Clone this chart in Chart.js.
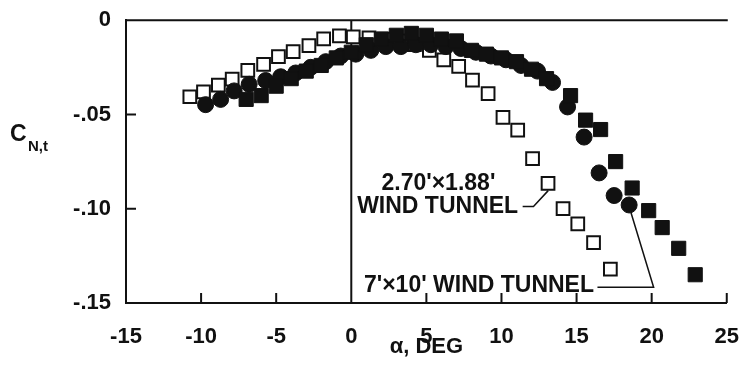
<!DOCTYPE html>
<html>
<head>
<meta charset="utf-8">
<script src="https://cdn.jsdelivr.net/npm/chart.js@4"></script>
<style>
  body { margin: 0; background: #fff; }
  #wrap { width: 752px; height: 370px; position: relative; }
</style>
</head>
<body>
<div id="wrap"><canvas id="cnChart"></canvas></div>
<script>
// 2.70' x 1.88' wind tunnel (open squares)
const alphaSmall = [-10.75, -9.84, -8.85, -7.93, -6.89, -5.84, -4.85, -3.87, -2.82, -1.84, -0.79, 0.13, 1.18,
  2.2, 3.2, 4.2, 5.2, 6.16, 7.15, 8.07, 9.11, 10.1, 11.08, 12.07, 13.1, 14.1, 15.08, 16.13, 17.25];
const cnSmall = [-0.0406, -0.038, -0.0344, -0.0313, -0.0266, -0.0234, -0.0193, -0.0167, -0.0135, -0.0099, -0.0083, -0.0089, -0.0094,
  -0.010, -0.011, -0.013, -0.016, -0.021, -0.0245, -0.0318, -0.039, -0.0516, -0.0583, -0.0734, -0.0865, -0.100, -0.108, -0.118, -0.132];

// 7' x 10' wind tunnel, filled circles
const alphaLargeA = [-9.7, -8.7, -7.8, -6.8, -5.7, -4.7, -3.7, -2.7, -1.7, -0.7, 0.3, 1.3, 2.3, 3.3, 4.3, 5.3, 6.3, 7.3,
  8.3, 9.3, 10.3, 11.3, 12.4, 13.4, 14.4, 15.5, 16.5, 17.5, 18.5];
const cnLargeA = [-0.0448, -0.042, -0.0375, -0.034, -0.032, -0.030, -0.028, -0.025, -0.022, -0.019, -0.018, -0.016, -0.014, -0.014,
  -0.013, -0.013, -0.014, -0.015, -0.017, -0.019, -0.021, -0.024, -0.027, -0.033, -0.046, -0.062, -0.081, -0.093, -0.098];

// 7' x 10' wind tunnel, filled squares
const alphaLargeB = [-7.0, -6.0, -5.0, -4.0, -3.0, -2.0, -1.0, 0.0, 1.0, 2.0, 3.0, 4.0, 5.0, 6.0, 7.0, 8.0, 9.0, 10.0,
  11.0, 12.0, 13.0, 14.6, 15.6, 16.6, 17.6, 18.7, 19.8, 20.7, 21.8, 22.9];
const cnLargeB = [-0.042, -0.040, -0.035, -0.031, -0.027, -0.024, -0.020, -0.017, -0.013, -0.010, -0.008, -0.007, -0.008, -0.010,
  -0.011, -0.016, -0.018, -0.020, -0.022, -0.026, -0.031, -0.040, -0.053, -0.058, -0.075, -0.089, -0.101, -0.110, -0.121, -0.135];

const xTickValues = [-15, -10, -5, 0, 5, 10, 15, 20, 25];
const yTickValues = [0, -0.05, -0.10, -0.15];
const yTickLabels = ['0', '-.05', '-.10', '-.15'];

const ink = '#111';
const fontFam = '"Liberation Sans", Arial, sans-serif';

function toPoints(xs, ys) {
  return xs.map((x, i) => ({ x: x, y: ys[i] }));
}

// frame, inside ticks, labels and leader lines
const decorPlugin = {
  id: 'decor',
  beforeDatasetsDraw(chart) {
    const ctx = chart.ctx;
    const xs = chart.scales.x, ys = chart.scales.y;
    const a = chart.chartArea;
    ctx.save();
    ctx.strokeStyle = ink;
    ctx.lineWidth = 2;
    ctx.beginPath();
    ctx.moveTo(a.left, a.top);
    ctx.lineTo(a.right + 1, a.top);
    const x0 = xs.getPixelForValue(0);
    ctx.moveTo(x0, a.top);
    ctx.lineTo(x0, a.bottom);
    xTickValues.slice(1).forEach(v => {
      const px = xs.getPixelForValue(v);
      ctx.moveTo(px, a.bottom);
      ctx.lineTo(px, a.bottom - 10);
    });
    yTickValues.slice(1, 3).forEach(v => {
      const py = ys.getPixelForValue(v);
      ctx.moveTo(a.left, py);
      ctx.lineTo(a.left + 10, py);
    });
    ctx.stroke();
    ctx.restore();
  },
  afterDatasetsDraw(chart) {
    const ctx = chart.ctx;
    const xs = chart.scales.x, ys = chart.scales.y;
    const P = (x, y) => [xs.getPixelForValue(x), ys.getPixelForValue(y)];
    ctx.save();
    ctx.fillStyle = ink;
    ctx.strokeStyle = ink;
    ctx.lineWidth = 1.5;

    // leader lines
    let p;
    ctx.beginPath();
    p = P(11.41, -0.0988); ctx.moveTo(p[0], p[1]);
    p = P(12.13, -0.0988); ctx.lineTo(p[0], p[1]);
    p = P(13.11, -0.0904); ctx.lineTo(p[0], p[1]);
    p = P(16.39, -0.1417); ctx.moveTo(p[0], p[1]);
    p = P(20.13, -0.1417); ctx.lineTo(p[0], p[1]);
    p = P(18.62, -0.102); ctx.lineTo(p[0], p[1]);
    ctx.stroke();

    // tunnel labels
    ctx.font = 'bold 23px ' + fontFam;
    ctx.textAlign = 'center';
    ctx.textBaseline = 'middle';
    p = P(5.8, -0.0868); ctx.fillText("2.70'\u00d71.88'", p[0], p[1]);
    p = P(5.75, -0.0988); ctx.fillText('WIND TUNNEL', p[0], p[1]);
    p = P(8.5, -0.1406); ctx.fillText("7'\u00d710' WIND TUNNEL", p[0], p[1]);

    // y title with subscript
    ctx.textAlign = 'left';
    ctx.textBaseline = 'alphabetic';
    ctx.font = 'bold 23px ' + fontFam;
    ctx.fillText('C', 10, 141);
    ctx.font = 'bold 15px ' + fontFam;
    ctx.fillText('N,t', 28, 151);
    ctx.restore();
  }
};

new Chart(document.getElementById('cnChart'), {
  type: 'scatter',
  data: {
    datasets: [
      {
        label: "7'x10' wind tunnel (squares)",
        data: toPoints(alphaLargeB, cnLargeB),
        pointStyle: 'rect',
        pointRadius: 10,
        backgroundColor: ink,
        borderColor: ink,
        borderWidth: 1,
        order: 1
      },
      {
        label: "7'x10' wind tunnel (circles)",
        data: toPoints(alphaLargeA, cnLargeA),
        pointStyle: 'circle',
        pointRadius: 8,
        backgroundColor: ink,
        borderColor: ink,
        borderWidth: 1,
        order: 2
      },
      {
        label: "2.70'x1.88' wind tunnel",
        data: toPoints(alphaSmall, cnSmall),
        pointStyle: 'rect',
        pointRadius: 9,
        backgroundColor: '#fff',
        borderColor: ink,
        borderWidth: 2,
        order: 3
      }
    ]
  },
  options: {
    responsive: true,
    maintainAspectRatio: false,
    animation: false,
    layout: { padding: { top: 16, right: 16, left: 0, bottom: 0 } },
    plugins: {
      legend: { display: false },
      tooltip: { enabled: false }
    },
    scales: {
      x: {
        type: 'linear',
        min: -15,
        max: 25,
        afterBuildTicks: s => { s.ticks = xTickValues.map(v => ({ value: v })); },
        ticks: {
          color: ink,
          padding: 13,
          maxRotation: 0,
          font: { family: fontFam, size: 22, weight: 'bold' },
          callback: v => String(v)
        },
        grid: { display: false },
        border: { display: true, color: ink, width: 2 },
        title: {
          display: true,
          text: '\u03b1, DEG',
          color: ink,
          font: { family: fontFam, size: 22, weight: 'bold' },
          padding: { top: 0, bottom: 10 }
        },
        afterFit: s => { s.height = 67; }
      },
      y: {
        type: 'linear',
        min: -0.15,
        max: 0,
        afterBuildTicks: s => { s.ticks = yTickValues.map(v => ({ value: v })); },
        ticks: {
          color: ink,
          padding: 7,
          font: { family: fontFam, size: 22, weight: 'bold' },
          callback: v => {
            const i = yTickValues.findIndex(t => Math.abs(t - v) < 1e-6);
            return i >= 0 ? yTickLabels[i] : '';
          }
        },
        grid: { display: false },
        border: { display: true, color: ink, width: 2 },
        afterFit: s => { s.width = 126; }
      }
    }
  },
  plugins: [decorPlugin]
});
</script>
</body>
</html>
